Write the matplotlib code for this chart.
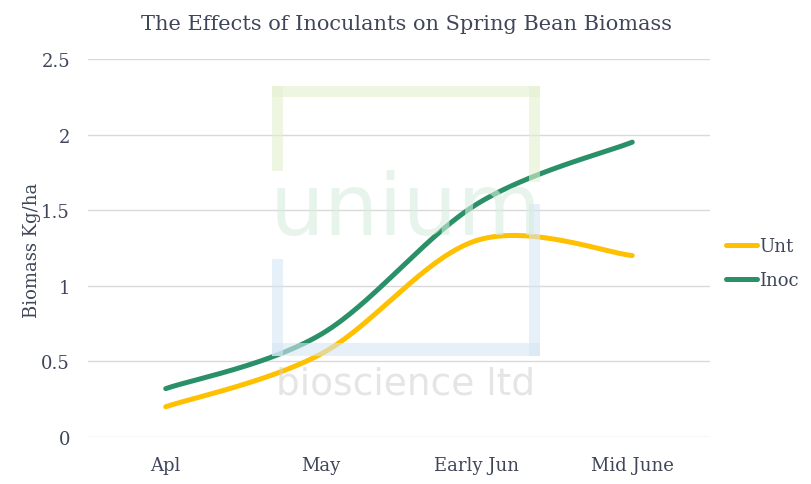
import numpy as np
import matplotlib
matplotlib.use("Agg")
import matplotlib.pyplot as plt
from matplotlib.patches import Rectangle

categories = ["Apl", "May", "Early Jun", "Mid June"]
unt = [0.2, 0.55, 1.3, 1.2]
inoc = [0.32, 0.68, 1.54, 1.95]
yticks = [0, 0.5, 1, 1.5, 2, 2.5]
ytick_labels = ["0", "0.5", "1", "1.5", "2", "2.5"]

TEXT = "#3f4659"
FONT = "DejaVu Serif"

def smooth(y, n=60):
    y = np.asarray(y, float)
    x = np.arange(len(y), dtype=float)
    xs, ys = [], []
    for i in range(len(y) - 1):
        p0 = np.array([x[i], y[i]])
        p3 = np.array([x[i + 1], y[i + 1]])
        pm = np.array([x[max(i - 1, 0)], y[max(i - 1, 0)]])
        pp = np.array([x[min(i + 2, len(y) - 1)], y[min(i + 2, len(y) - 1)]])
        c1 = p0 + (p3 - pm) / 6
        c2 = p3 - (pp - p0) / 6
        t = np.linspace(0, 1, n)[:, None]
        b = (1 - t) ** 3 * p0 + 3 * (1 - t) ** 2 * t * c1 + 3 * (1 - t) * t ** 2 * c2 + t ** 3 * p3
        xs.append(b[:, 0]); ys.append(b[:, 1])
    return np.concatenate(xs), np.concatenate(ys)

fig = plt.figure(figsize=(8.11, 4.85), dpi=100)
ax = fig.add_axes([88 / 811, 47 / 485, 622 / 811, 378 / 485])

# watermark (decorative)
wm = fig.add_axes([0, 0, 1, 1], zorder=3)
wm.set_xlim(0, 811); wm.set_ylim(485, 0); wm.axis("off")
wm.patch.set_alpha(0)
green = "#e3f0cf"; blue = "#d5e6f4"
wm.add_patch(Rectangle((272, 87), 268, 11, color=green, alpha=0.6, lw=0))
wm.add_patch(Rectangle((272, 87), 11, 85, color=green, alpha=0.6, lw=0))
wm.add_patch(Rectangle((529, 87), 11, 96, color=green, alpha=0.6, lw=0))
wm.add_patch(Rectangle((272, 260), 11, 97, color=blue, alpha=0.6, lw=0))
wm.add_patch(Rectangle((272, 344), 268, 13, color=blue, alpha=0.6, lw=0))
wm.add_patch(Rectangle((529, 205), 11, 152, color=blue, alpha=0.6, lw=0))
wm.text(406, 212, "unium", ha="center", va="center", fontsize=62, color="#d8eede",
        alpha=0.6, family="DejaVu Sans")
wm.text(406, 385, "bioscience ltd", ha="center", va="center", fontsize=27, color="#d0d0d0",
        alpha=0.55, family="DejaVu Sans")

x = np.arange(len(categories))
sx, sy = smooth(unt)
ax.plot(sx, sy, color="#FFC000", lw=3.6, solid_capstyle="round", label="Unt", zorder=2)
sx, sy = smooth(inoc)
ax.plot(sx, sy, color="#2A9068", lw=3.6, solid_capstyle="round", label="Inoc", zorder=2)

ax.set_xlim(-0.5, len(categories) - 0.5)
ax.set_ylim(0, 2.5)
ax.set_yticks(yticks)
ax.set_yticklabels(ytick_labels)
ax.set_xticks(x)
ax.set_xticklabels(categories)
ax.grid(axis="y", color="#d9d9d9", lw=1)
ax.set_axisbelow(True)
for s in ax.spines.values():
    s.set_visible(False)
ax.tick_params(length=0, labelsize=13, labelcolor=TEXT)
ax.tick_params(axis="y", pad=13)
ax.tick_params(axis="x", pad=14)
for lab in ax.get_xticklabels() + ax.get_yticklabels():
    lab.set_family(FONT)

fig.text(32 / 811, 1 - 250 / 485, "Biomass Kg/ha", rotation=90, ha="center", va="center",
         fontsize=13, color=TEXT, family=FONT)
fig.text(406 / 811, 1 - 25 / 485, "The Effects of Inoculants on Spring Bean Biomass",
         ha="center", va="center", fontsize=15, color=TEXT, family=FONT)

leg = ax.legend(loc="center left", bbox_to_anchor=(1.0, 0.46), frameon=False,
                prop={"family": FONT, "size": 13}, handlelength=1.7, handletextpad=0.1,
                labelspacing=0.9, borderaxespad=0.5)
for t in leg.get_texts():
    t.set_color(TEXT)

fig.savefig("out.png", dpi=100)
